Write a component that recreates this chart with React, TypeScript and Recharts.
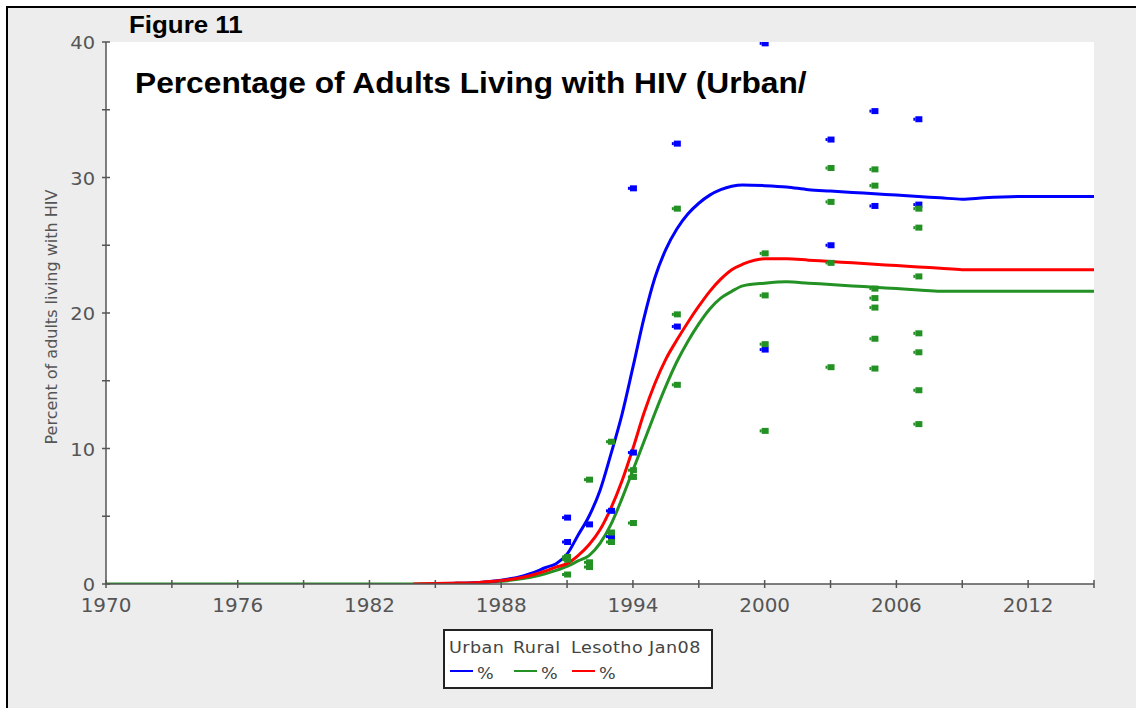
import React from 'react';
import { ComposedChart, Line, Scatter, XAxis, YAxis, CartesianGrid, Label } from 'recharts';

// ---- Data ----
const curveYears = [
  1970, 1975, 1980, 1984, 1985, 1985.5, 1986, 1987, 1988, 1989, 1989.5, 1990, 1990.5, 1991, 1991.5,
  1992, 1992.5, 1993, 1993.5, 1994, 1994.5, 1995, 1995.5, 1996, 1996.5, 1997, 1997.5, 1998, 1998.5,
  1999, 2000, 2001, 2002, 2003, 2004, 2005, 2006, 2007, 2008, 2009, 2010, 2012, 2015,
];
const urbanCurve = [
  null, null, null, null, null, 0.03, 0.05, 0.12, 0.28, 0.6, 0.85, 1.2, 1.5, 2.2, 3.6,
  5.0, 6.9, 9.6, 12.5, 16.0, 19.6, 22.6, 24.7, 26.2, 27.3, 28.1, 28.7, 29.1, 29.35,
  29.45, 29.4, 29.3, 29.1, 29.0, 28.9, 28.8, 28.7, 28.6, 28.5, 28.4, 28.5, 28.6, 28.6,
];
const ruralCurve = [
  0, 0, 0, 0, 0.02, 0.03, 0.05, 0.1, 0.2, 0.4, 0.55, 0.75, 1.0, 1.3, 1.7,
  2.1, 3.0, 4.4, 6.3, 8.4, 10.5, 12.6, 14.6, 16.4, 17.9, 19.2, 20.3, 21.1, 21.6,
  22.0, 22.2, 22.3, 22.2, 22.1, 22.0, 21.9, 21.8, 21.7, 21.6, 21.6, 21.6, 21.6, 21.6,
];
const lesothoCurve = [
  null, null, null, 0, 0.03, 0.05, 0.07, 0.12, 0.25, 0.5, 0.7, 0.95, 1.25, 1.5, 2.1,
  2.9, 4.0, 5.6, 7.6, 10.0, 12.6, 14.8, 16.6, 18.0, 19.3, 20.5, 21.6, 22.5, 23.2,
  23.6, 24.0, 24.0, 23.9, 23.8, 23.7, 23.6, 23.5, 23.4, 23.3, 23.2, 23.2, 23.2, 23.2,
];

const urbanPointYears = [1991, 1991, 1992, 1993, 1993, 1994, 1994, 1996, 1996, 2000, 2000, 2003, 2003, 2005, 2005, 2007, 2007];
const urbanPointValues = [4.9, 3.1, 4.4, 5.4, 3.5, 9.7, 29.2, 32.5, 19.0, 39.9, 17.3, 32.8, 25.0, 34.9, 27.9, 34.3, 28.0];

const ruralPointYears = [
  1991, 1991, 1991, 1992, 1992, 1992, 1993, 1993, 1993, 1994, 1994, 1994, 1996, 1996, 1996,
  2000, 2000, 2000, 2000, 2003, 2003, 2003, 2003,
  2005, 2005, 2005, 2005, 2005, 2005, 2005,
  2007, 2007, 2007, 2007, 2007, 2007, 2007,
];
const ruralPointValues = [
  2.0, 1.8, 0.7, 7.7, 1.6, 1.25, 10.5, 3.8, 3.1, 8.4, 7.9, 4.5, 27.7, 19.9, 14.7,
  24.4, 21.3, 17.7, 11.3, 30.7, 28.2, 23.7, 16.0,
  30.6, 29.4, 21.8, 21.1, 20.4, 18.1, 15.9,
  27.7, 26.3, 22.7, 18.5, 17.1, 14.3, 11.8,
];

const yTicks = [0, 5, 10, 15, 20, 25, 30, 35, 40];
const yTickLabels = [0, 10, 20, 30, 40];
const xTicks = [1970, 1973, 1976, 1979, 1982, 1985, 1988, 1991, 1994, 1997, 2000, 2003, 2006, 2009, 2012, 2015];
const xTickLabels = [1970, 1976, 1982, 1988, 1994, 2000, 2006, 2012];

const seriesNames = ['Urban', 'Rural', 'Lesotho Jan08'];
const seriesUnit = '%';
const seriesColors = ['#0000ff', '#239123', '#ff0000'];

const figureLabel = 'Figure 11';
const chartTitle = 'Percentage of Adults Living with HIV (Urban/';
const yAxisTitle = 'Percent of adults living with HIV';

// ---- Build series tables ----
const toCurve = (vals: (number | null)[]) => curveYears.map((year, i) => ({ year, v: vals[i] }));
const urbanData = toCurve(urbanCurve);
const ruralData = toCurve(ruralCurve);
const lesothoData = toCurve(lesothoCurve);
const urbanPoints = urbanPointYears.map((year, i) => ({ year, v: urbanPointValues[i] }));
const ruralPoints = ruralPointYears.map((year, i) => ({ year, v: ruralPointValues[i] }));

const AXIS = '#555';
const TICK_FONT = '"DejaVu Sans", sans-serif';

const YTick = (props: any) => {
  const { x, y, payload } = props;
  const v = payload.value;
  return (
    <g>
      <line x1={x - 4} x2={x + 4} y1={y} y2={y} stroke={AXIS} strokeWidth={1.5} />
      {yTickLabels.includes(v) && (
        <text
          x={0}
          y={0}
          transform={`translate(${x - 11},${y + 7}) scale(1.08,1)`}
          textAnchor="end"
          fontSize={18}
          fontFamily={TICK_FONT}
          fill={AXIS}
        >
          {v}
        </text>
      )}
    </g>
  );
};

const XTick = (props: any) => {
  const { x, y, payload } = props;
  const v = payload.value;
  return (
    <g>
      <line x1={x} x2={x} y1={y - 4} y2={y + 4} stroke={AXIS} strokeWidth={1.5} />
      {xTickLabels.includes(v) && (
        <text
          x={0}
          y={0}
          transform={`translate(${x},${y + 28}) scale(1.05,1)`}
          textAnchor="middle"
          fontSize={19}
          fontFamily={TICK_FONT}
          fill={AXIS}
        >
          {v}
        </text>
      )}
    </g>
  );
};

const Marker = (props: any) => {
  const { cx, cy, fill } = props;
  if (cx == null || cy == null) return null;
  return (
    <g>
      <rect x={cx - 3} y={cy - 3} width={7} height={6} fill={fill} />
      <rect x={cx - 5} y={cy - 1.5} width={2} height={3} fill={fill} />
    </g>
  );
};

export default function App() {
  const W = 1136;
  const H = 708;
  return (
    <div style={{ position: 'absolute', left: 0, top: 0, width: W, height: H, background: '#fff', overflow: 'hidden' }}>
      <div
        style={{
          position: 'absolute',
          left: 6,
          top: 6,
          width: W,
          height: H,
          background: '#ededed',
          borderTop: '2px solid #000',
          borderLeft: '2px solid #000',
        }}
      />
      <div style={{ position: 'absolute', left: 0, top: 0 }}>
        <ComposedChart width={W} height={H} margin={{ top: 42, right: 42, bottom: 84, left: 46 }}>
          <CartesianGrid fill="#ffffff" horizontal={false} vertical={false} />
          <XAxis
            dataKey="year"
            type="number"
            domain={[1970, 2015]}
            ticks={xTicks}
            interval={0}
            allowDataOverflow
            height={40}
            tickSize={0}
            tickMargin={0}
            tickLine={false}
            axisLine={{ stroke: AXIS, strokeWidth: 1.5 }}
            tick={<XTick />}
          />
          <YAxis
            type="number"
            domain={[0, 40]}
            ticks={yTicks}
            interval={0}
            allowDataOverflow
            width={60}
            tickSize={0}
            tickMargin={0}
            tickLine={false}
            axisLine={{ stroke: AXIS, strokeWidth: 1.5 }}
            tick={<YTick />}
          >
            <Label
              content={() => (
                <text
                  transform="translate(57,317) rotate(-90)"
                  textAnchor="middle"
                  fontSize={16}
                  fontFamily={TICK_FONT}
                  fill={AXIS}
                >
                  {yAxisTitle}
                </text>
              )}
            />
          </YAxis>
          <Line data={ruralData} dataKey="v" name={seriesNames[1]} type="monotone" stroke={seriesColors[1]} strokeWidth={3} dot={false} activeDot={false} isAnimationActive={false} />
          <Line data={urbanData} dataKey="v" name={seriesNames[0]} type="monotone" stroke={seriesColors[0]} strokeWidth={3} dot={false} activeDot={false} isAnimationActive={false} />
          <Line data={lesothoData} dataKey="v" name={seriesNames[2]} type="monotone" stroke={seriesColors[2]} strokeWidth={3} dot={false} activeDot={false} isAnimationActive={false} />
          <Scatter data={urbanPoints} dataKey="v" fill={seriesColors[0]} shape={<Marker />} isAnimationActive={false} />
          <Scatter data={ruralPoints} dataKey="v" fill={seriesColors[1]} shape={<Marker />} isAnimationActive={false} />
        </ComposedChart>
      </div>
      <svg width={W} height={H} style={{ position: 'absolute', left: 0, top: 0, pointerEvents: 'none' }}>
        <text
          transform="translate(129,33) scale(1.08,1)"
          fontSize={24}
          fontWeight="bold"
          fontFamily='"Liberation Sans", Arial, sans-serif'
          fill="#000"
        >
          {figureLabel}
        </text>
        <text
          transform="translate(135,93) scale(1.057,1)"
          fontSize={30}
          fontWeight="bold"
          fontFamily='"Liberation Sans", Arial, sans-serif'
          fill="#000"
        >
          {chartTitle}
        </text>
        <g>
          <rect x={444} y={630} width={268} height={58} fill="#fff" stroke="#222" strokeWidth={2} />
          {seriesNames.map((name, i) => {
            const colX = [449, 513, 571][i];
            return (
              <g key={name}>
                <text
                  transform={`translate(${colX},653) scale(1.1,1)`}
                  fontSize={16}
                  letterSpacing={0.4}
                  fontFamily={TICK_FONT}
                  fill="#444"
                >
                  {name}
                </text>
                <line x1={colX + 1} x2={colX + 24} y1={671} y2={671} stroke={seriesColors[i]} strokeWidth={2} />
                <text
                  transform={`translate(${colX + 28},679) scale(1.1,1)`}
                  fontSize={16}
                  fontFamily={TICK_FONT}
                  fill="#444"
                >
                  {seriesUnit}
                </text>
              </g>
            );
          })}
        </g>
      </svg>
    </div>
  );
}
